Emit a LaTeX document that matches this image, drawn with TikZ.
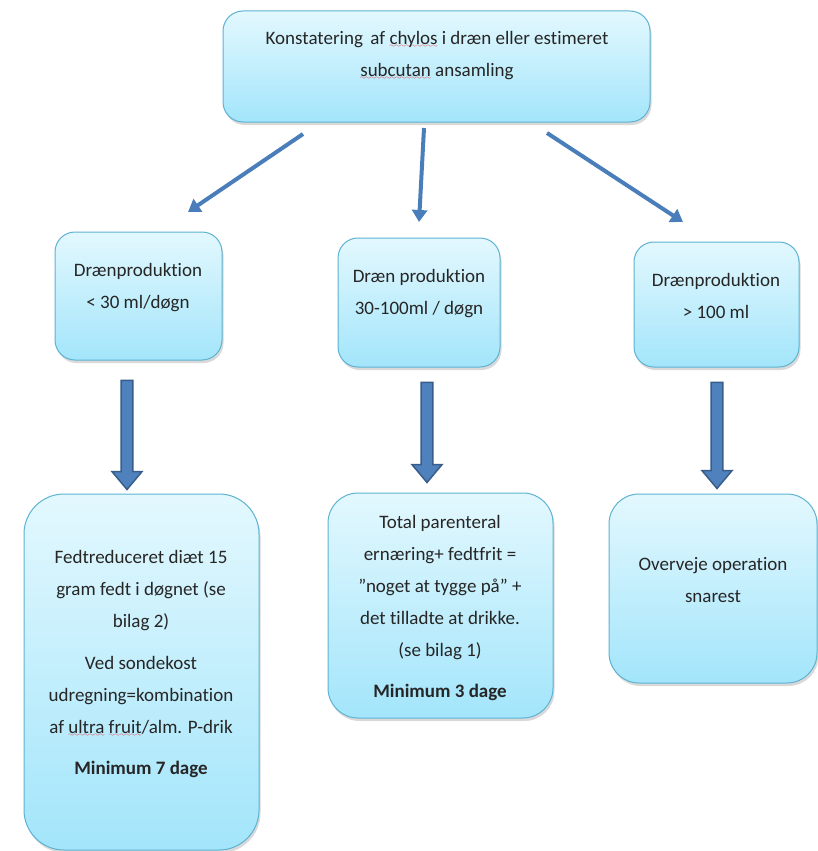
\documentclass[tikz,border=0pt]{standalone}
\usepackage{fontspec}
\setmainfont{Carlito}[Ligatures={NoCommon}]
\usetikzlibrary{shapes.arrows,shadows,arrows.meta}

\definecolor{boxtop}{HTML}{E3F8FE}
\definecolor{boxbot}{HTML}{A3E5FB}
\definecolor{boxline}{HTML}{5DB3D1}
\definecolor{arrowblue}{HTML}{4A7EBB}
\definecolor{blockfill}{HTML}{4F81BD}
\definecolor{blockline}{HTML}{385D8A}

\font\wavefont=lasy6
\newcommand\redwave[1]{\setbox0\hbox{#1}\rlap{\textcolor{red}{\lower3pt\hbox to \wd0{\xleaders\hbox{\wavefont\char58}\hfill}}}#1}

\begin{document}
\begin{tikzpicture}
  [x=1pt,y=-1pt,every node/.style={font=\fontsize{19}{32}\selectfont,text=black!85}]
  \tikzstyle{box} = [draw=boxline,line width=1pt,top color=boxtop,bottom color=boxbot,
                     drop shadow={shadow xshift=1.5pt,shadow yshift=-3pt,opacity=.3}]
  \tikzstyle{txt} = [align=center,inner sep=0pt]
  \tikzstyle{thin} = [draw=arrowblue,line width=4pt,-{Triangle[width=15pt,length=12pt]}]
  \tikzstyle{block} = [single arrow,draw=blockline,fill=blockfill,line width=1.5pt,
                       minimum width=30pt,single arrow head extend=9pt,
                       single arrow tip angle=80,inner xsep=0pt,inner ysep=5pt,rotate=-90]
  \useasboundingbox (0,0) rectangle (818,851);

  % boxes
\foreach \name/\cx/\cy/\w/\h/\r in {top/436.5/66.5/427/111/20,
    dl/138.5/296/167/128/20, dc/419/302.5/162/129/20, dr/716.5/304.5/165/125/20,
    bl/141.5/672/235/356/40, bc/440.5/605.5/225/225/30, br/713/588.5/208/189/30}
   \node[box,rounded corners=\r pt,minimum width=\w pt,minimum height=\h pt] (\name) at (\cx,\cy) {};

  \node[txt] (top-t) at (437,56) {Konstatering\, af \redwave{chylos} i dræn eller estimeret\\ \redwave{subcutan} ansamling};
  \node[txt] (dl-t) at (138,288) {Drænproduktion\\ < 30 ml/døgn};
  \node[txt] (dc-t) at (419,294) {Dræn produktion\\ 30-100ml / døgn};
  \node[txt] (dr-t) at (716,296) {Drænproduktion\\ > 100 ml};
  \node[txt] (bl-t) at (141,664) {Fedtreduceret diæt 15\\ gram fedt i døgnet (se\\ bilag 2)\\[10pt]
    Ved sondekost\\ udregning=kombination\\ af \redwave{ultra} \redwave{fruit}/alm. P-drik\\[9pt]
    \textbf{Minimum 7 dage}};
  \node[txt] (bc-t) at (440,608) {Total parenteral\\ ernæring+ fedtfrit =\\ ”noget at tygge på” +\\
    det tilladte at drikke.\\ (se bilag 1)\\[9pt] \textbf{Minimum 3 dage}};
  \node[txt] (br-t) at (713,580) {Overveje operation\\ snarest};

  % arrows
  \coordinate (s1) at (303,134); \coordinate (e1) at (188,212);
  \coordinate (s2) at (424,128); \coordinate (e2) at (419,222);
  \coordinate (s3) at (547,133); \coordinate (e3) at (683,222);
\foreach \source/\dest in {s1/e1,s2/e2,s3/e3}
   \draw[thin] (\source) -- (\dest);

\foreach \name/\cx/\cy/\len in {b1/127/431.5/109, b2/427/429/100, b3/717/432/106}
   \node[block,minimum height=\len pt] (\name) at (\cx,\cy) {};

\end{tikzpicture}
\end{document}
